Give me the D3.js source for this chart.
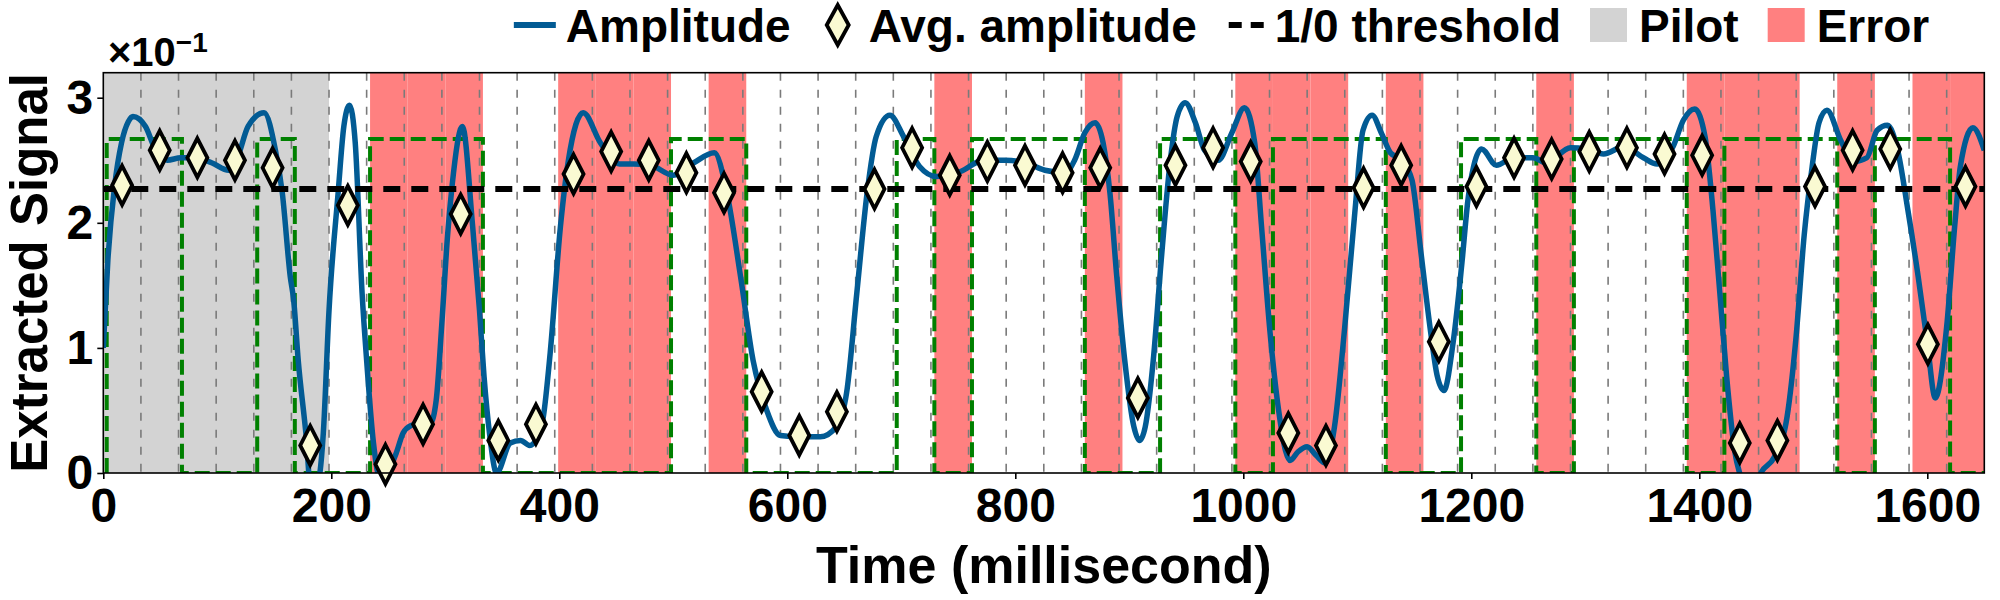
<!DOCTYPE html>
<html>
<head>
<meta charset="utf-8">
<script src="https://cdn.jsdelivr.net/npm/d3@7"></script>
<style>
  body { margin: 0; background: #fff; }
  text { font-family: "Liberation Sans", Arial, sans-serif; font-weight: bold; fill: #000; }
</style>
</head>
<body>
<svg id="canvas" width="2000" height="600"></svg>
<script>
// ---- data ----
let bitMs = 33;
let nBits = 50;
let pilotBits = 6;
let truthShift = 3; // ground truth / error spans sit ~3 ms after the bit grid

let ampTime = [0, 4, 10, 16, 22, 26, 37, 45, 56, 68, 80, 95, 110, 118, 127, 141, 151, 157, 164, 167, 171, 178,
  183, 190, 193, 198, 206, 211, 216, 221, 227, 231, 237, 242, 250, 257, 263, 270, 280, 287, 292, 297, 302, 306,
  315, 324, 330, 334, 339, 345, 357, 366, 374, 380, 386, 392, 401, 408, 421, 436, 453, 465, 480, 500, 518, 536,
  547, 559, 570, 582, 594, 611, 629, 643, 652, 661, 670, 678, 690, 702, 716, 731, 752, 772, 791, 809, 826, 844,
  852, 861, 870, 877, 883, 889, 896, 904, 909, 914, 921, 928, 936, 942, 949, 958, 966, 978, 990, 1001, 1010,
  1016, 1023, 1031, 1037, 1041, 1048, 1056, 1064, 1072, 1080, 1089, 1098, 1105, 1113, 1121, 1129, 1139, 1148,
  1156, 1164, 1170, 1176, 1184, 1192, 1197, 1202, 1209, 1222, 1237, 1254, 1266, 1287, 1301, 1316, 1334, 1351,
  1363, 1377, 1386, 1396, 1405, 1412, 1418, 1424, 1431, 1437, 1446, 1454, 1466, 1477, 1485, 1492, 1499, 1505,
  1512, 1524, 1536, 1547, 1556, 1565, 1574, 1583, 1592, 1600, 1607, 1617, 1624, 1629, 1640, 1650];
let ampValue = [1.0, 1.7, 2.3, 2.64, 2.81, 2.85, 2.77, 2.6, 2.5, 2.52, 2.52, 2.48, 2.42, 2.53, 2.77, 2.88, 2.58, 2.24, 1.57, 1.38, 0.9, 0.29,
  -0.25, 0.0, 0.32, 1.3, 2.24, 2.77, 2.94, 2.64, 1.44, 0.9, 0.24, -0.02, 0.02, 0.16, 0.32, 0.38, 0.4, 0.4, 0.58, 1.2, 1.9, 2.3,
  2.77, 1.97, 1.3, 0.77, 0.3, 0.0, 0.24, 0.26, 0.22, 0.27, 0.45, 0.96, 1.97, 2.5, 2.88, 2.64, 2.47, 2.47, 2.46, 2.38, 2.48, 2.56,
  2.24, 1.57, 0.9, 0.5, 0.3, 0.29, 0.29, 0.37, 0.64, 1.44, 2.24, 2.69, 2.86, 2.69, 2.45, 2.37, 2.41, 2.5, 2.5, 2.48, 2.42, 2.4,
  2.5, 2.72, 2.8, 2.64, 2.24, 1.57, 0.9, 0.37, 0.26, 0.37, 0.9, 1.7, 2.5, 2.85, 2.96, 2.8, 2.58, 2.5, 2.72, 2.92, 2.64,
  1.97, 1.17, 0.5, 0.18, 0.1, 0.17, 0.21, 0.14, 0.08, 0.37, 1.17, 2.1, 2.74, 2.86, 2.72, 2.56, 2.5, 2.34,
  1.75, 1.15, 0.78, 0.66, 1.04, 1.7, 2.18, 2.45, 2.59, 2.46, 2.52, 2.52, 2.48, 2.6, 2.59, 2.55, 2.61, 2.52,
  2.47, 2.61, 2.82, 2.91, 2.69, 2.1, 1.44, 0.77, 0.18, -0.05, -0.2, 0.0, 0.13, 0.45, 1.1, 1.9, 2.45, 2.8,
  2.9, 2.66, 2.49, 2.52, 2.74, 2.78, 2.58, 2.1, 1.57, 1.04, 0.6, 1.17, 1.97, 2.45, 2.76, 2.58];

let avgAmp = [2.30, 2.58, 2.52, 2.50, 2.44, 0.22, 2.14, 0.07, 0.39, 2.07,
  0.26, 0.39, 2.39, 2.57, 2.50, 2.40, 2.24, 0.65, 0.30, 0.49,
  2.27, 2.60, 2.38, 2.49, 2.46, 2.40, 2.44, 0.60, 2.46, 2.60,
  2.49, 0.32, 0.22, 2.28, 2.46, 1.05, 2.29, 2.52, 2.51, 2.57,
  2.60, 2.55, 2.54, 0.24, 0.26, 2.29, 2.58, 2.59, 1.03, 2.29];

let truthBits = [1, 1, 0, 0, 1, 0, 0, 1, 1, 1,
  0, 0, 0, 0, 0, 1, 1, 0, 0, 0,
  0, 1, 0, 1, 1, 1, 0, 0, 1, 1,
  0, 1, 1, 1, 0, 0, 1, 1, 0, 1,
  1, 1, 0, 1, 1, 1, 0, 1, 1, 0];

let errorBits = [7, 8, 9, 12, 13, 14, 16, 22, 26, 30, 31, 32, 34, 38, 42, 43, 44, 46, 48, 49];

let threshold = 2.27;
let highLevel = 2.67;

let xTicks = [0, 200, 400, 600, 800, 1000, 1200, 1400, 1600];
let yTicks = [0, 1, 2, 3];
let legendLabels = ["Amplitude", "Avg. amplitude", "1/0 threshold", "Pilot", "Error"];

// ---- drawing ----
let canvas = d3.select("#canvas");

let xScale = d3.scaleLinear().domain([0, 1650]).range([103.3, 1984.3]);
let yScale = d3.scaleLinear().domain([0, 3.2]).range([473, 72.7]);

canvas.append("defs").append("clipPath").attr("id", "plotClip")
  .append("rect")
  .attr("x", xScale(0)).attr("y", yScale(3.2))
  .attr("width", xScale(1650) - xScale(0))
  .attr("height", yScale(0) - yScale(3.2));

let plot = canvas.append("g").attr("clip-path", "url(#plotClip)");

// pilot region
plot.append("rect")
  .attr("x", xScale(0)).attr("y", yScale(3.2))
  .attr("width", xScale(pilotBits * bitMs) - xScale(0))
  .attr("height", yScale(0) - yScale(3.2))
  .attr("fill", "#d3d3d3");

// error regions
plot.selectAll("rect.err")
  .data(errorBits)
  .enter()
  .append("rect")
  .attr("class", "err")
  .attr("x", (b) => xScale(b * bitMs + truthShift))
  .attr("y", yScale(3.2))
  .attr("width", xScale(bitMs) - xScale(0))
  .attr("height", yScale(0) - yScale(3.2))
  .attr("fill", "#ff8080");

// bit grid
plot.selectAll("line.grid")
  .data(d3.range(1, nBits))
  .enter()
  .append("line")
  .attr("class", "grid")
  .attr("x1", (k) => xScale(k * bitMs))
  .attr("x2", (k) => xScale(k * bitMs))
  .attr("y1", yScale(3.2))
  .attr("y2", yScale(0))
  .attr("stroke", "#7a7a7a")
  .attr("stroke-width", 1.6)
  .attr("stroke-dasharray", "8,9");

// ground truth step
let truthPts = [[truthShift, 0]];
truthBits.forEach((b, i) => {
  truthPts.push([i * bitMs + truthShift, b * highLevel]);
});
truthPts.push([nBits * bitMs, truthBits[nBits - 1] * highLevel]);

plot.append("path")
  .attr("d", d3.line()
    .x((d) => xScale(d[0]))
    .y((d) => yScale(d[1]))
    .curve(d3.curveStepAfter)(truthPts))
  .attr("fill", "none")
  .attr("stroke", "#008000")
  .attr("stroke-width", 4)
  .attr("stroke-dasharray", "15,6");

// amplitude
plot.append("path")
  .attr("d", d3.line()
    .x((d, i) => xScale(ampTime[i]))
    .y((d) => yScale(d))
    .curve(d3.curveMonotoneX)(ampValue))
  .attr("fill", "none")
  .attr("stroke", "#025b94")
  .attr("stroke-width", 5.5)
  .attr("stroke-linejoin", "round");

// threshold
plot.append("line")
  .attr("x1", xScale(0)).attr("x2", xScale(1650))
  .attr("y1", yScale(threshold)).attr("y2", yScale(threshold))
  .attr("stroke", "#000")
  .attr("stroke-width", 6)
  .attr("stroke-dasharray", "17,11");

// per-bit averages
let diamond = "M0,-19.5 L10,0 L0,19.5 L-10,0 Z";
canvas.append("g").selectAll("path")
  .data(avgAmp)
  .enter()
  .append("path")
  .attr("d", diamond)
  .attr("transform", (d, i) => "translate(" + xScale(i * bitMs + bitMs / 2) + "," + yScale(d) + ")")
  .attr("fill", "#fafad2")
  .attr("stroke", "#000")
  .attr("stroke-width", 3.8)
  .attr("stroke-linejoin", "miter");

// frame
canvas.append("rect")
  .attr("x", xScale(0)).attr("y", yScale(3.2))
  .attr("width", xScale(1650) - xScale(0))
  .attr("height", yScale(0) - yScale(3.2))
  .attr("fill", "none")
  .attr("stroke", "#000")
  .attr("stroke-width", 1.6);

// axes
let xAxis = canvas.append("g")
  .attr("transform", "translate(0," + yScale(0) + ")")
  .call(d3.axisBottom(xScale).tickValues(xTicks).tickFormat(d3.format("d")).tickSize(6).tickPadding(9));
let yAxis = canvas.append("g")
  .attr("transform", "translate(" + xScale(0) + ",0)")
  .call(d3.axisLeft(yScale).tickValues(yTicks).tickFormat(d3.format("d")).tickSize(6).tickPadding(4));
[xAxis, yAxis].forEach((ax) => {
  ax.select(".domain").remove();
  ax.selectAll("line").attr("stroke", "#000").attr("stroke-width", 1.6);
  ax.selectAll("text").style("font-size", "48px").attr("fill", "#000");
});

canvas.append("text")
  .attr("x", (xScale(0) + xScale(1650)) / 2)
  .attr("y", 583)
  .attr("text-anchor", "middle")
  .style("font-size", "52px")
  .text("Time (millisecond)");

canvas.append("text")
  .attr("transform", "translate(47," + (yScale(0) + yScale(3.2)) / 2 + ") rotate(-90)")
  .attr("text-anchor", "middle")
  .style("font-size", "51px")
  .text("Extracted Signal");

let offsetText = canvas.append("text")
  .attr("x", 108)
  .attr("y", 66)
  .style("font-size", "40px");
offsetText.append("tspan").text("×10");
offsetText.append("tspan").attr("dy", -14).style("font-size", "28px").text("−1");

// legend
let legend = canvas.append("g");
let handleW = 42;
let textGap = 10;
let colGap = 26;
let midY = 25;
let baseY = 42;
let cursor = 0;
let items = [];
legendLabels.forEach((label, i) => {
  let item = legend.append("g");
  let txt = item.append("text")
    .attr("x", handleW + textGap)
    .attr("y", baseY)
    .style("font-size", "46px")
    .text(label);
  if (i === 0) {
    item.append("line").attr("x1", 0).attr("x2", handleW).attr("y1", midY).attr("y2", midY)
      .attr("stroke", "#025b94").attr("stroke-width", 6);
  } else if (i === 1) {
    item.append("path").attr("d", "M0,-20 L11,0 L0,20 L-11,0 Z")
      .attr("transform", "translate(" + handleW / 2 + "," + midY + ")")
      .attr("fill", "#fafad2").attr("stroke", "#000").attr("stroke-width", 3.8);
  } else if (i === 2) {
    item.append("line").attr("x1", 6).attr("x2", handleW).attr("y1", midY).attr("y2", midY)
      .attr("stroke", "#000").attr("stroke-width", 6).attr("stroke-dasharray", "13,9");
  } else {
    item.append("rect").attr("x", 3).attr("y", 8).attr("width", 37).attr("height", 34)
      .attr("fill", i === 3 ? "#d3d3d3" : "#ff8080");
  }
  let w = handleW + textGap + txt.node().getComputedTextLength();
  items.push({ item: item, x: cursor });
  cursor += w + colGap;
});
let legendWidth = cursor - colGap;
let legendLeft = 1221.5 - legendWidth / 2;
items.forEach((d) => d.item.attr("transform", "translate(" + (legendLeft + d.x) + ",0)"));
</script>
</body>
</html>
